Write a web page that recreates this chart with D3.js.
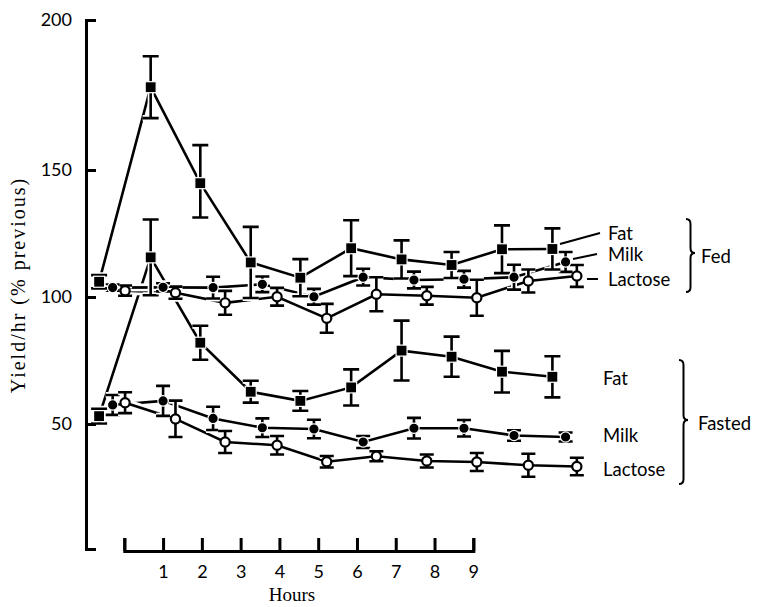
<!DOCTYPE html>
<html>
<head>
<meta charset="utf-8">
<script src="https://cdn.jsdelivr.net/npm/d3@7"></script>
<style>
body { margin:0; background:#fff; }
</style>
</head>
<body>
<svg id="drawing_region"></svg>
<script>
// sampling times (hours) for each component
const hours_fat     = [-0.65, 0.68, 1.96, 3.26, 4.54, 5.85, 7.15, 8.44, 9.74, 11.04];
const hours_milk    = [-0.30, 1.00, 2.29, 3.56, 4.89, 6.16, 7.47, 8.76, 10.05, 11.38];
const hours_lactose = [0.02, 1.32, 2.60, 3.94, 5.22, 6.50, 7.80, 9.09, 10.42, 11.67];

// yield/hr, % of previous; err = half length of error bar
const fed_fat         = [106.0, 177.6, 144.8, 113.6, 107.6, 119.2, 114.8, 112.6, 118.8, 118.9];
const fed_fat_err     = [2.6, 10.3, 13.5, 14.0, 7.3, 11.0, 7.5, 5.1, 9.4, 8.1];
const fed_milk        = [103.7, 103.8, 103.7, 105.0, 100.1, 107.8, 106.7, 107.0, 107.8, 113.8];
const fed_milk_err    = [1.2, 1.6, 4.3, 3.1, 3.1, 3.3, 3.3, 3.3, 4.9, 3.9];
const fed_lactose     = [102.5, 101.7, 97.7, 100.1, 91.6, 101.1, 100.5, 99.7, 106.3, 108.3];
const fed_lactose_err = [2.0, 2.4, 4.7, 3.5, 5.7, 6.7, 3.5, 7.1, 4.5, 4.3];

const fasted_fat         = [53.1, 115.6, 82.0, 62.7, 59.1, 64.4, 78.9, 76.5, 70.6, 68.6];
const fasted_fat_err     = [2.9, 14.9, 6.7, 4.3, 3.9, 7.1, 11.8, 7.9, 8.2, 8.1];
const fasted_milk        = [57.5, 59.1, 52.2, 48.5, 48.0, 42.8, 48.3, 48.3, 45.4, 44.8];
const fasted_milk_err    = [3.9, 5.9, 4.6, 3.7, 3.7, 2.4, 4.1, 3.3, 2.1, 1.8];
const fasted_lactose     = [58.4, 52.0, 42.8, 41.5, 34.9, 37.1, 35.2, 34.8, 33.5, 33.0];
const fasted_lactose_err = [4.1, 7.2, 4.4, 3.7, 2.3, 2.0, 2.6, 3.6, 4.6, 3.5];

const y_ticks = [50, 100, 150, 200];
const x_ticks = [0, 1, 2, 3, 4, 5, 6, 7, 8, 9];

function series(name, marker, t, v, e) {
    return { name: name, marker: marker, points: t.map((h, i) => ({ t: h, v: v[i], e: e[i] })) };
}

// fasted first so the fed lines cut through them
const all_series = [
    series('Fasted fat', 'square', hours_fat, fasted_fat, fasted_fat_err),
    series('Fasted milk', 'dot', hours_milk, fasted_milk, fasted_milk_err),
    series('Fasted lactose', 'ring', hours_lactose, fasted_lactose, fasted_lactose_err),
    series('Fed lactose', 'ring', hours_lactose, fed_lactose, fed_lactose_err),
    series('Fed milk', 'dot', hours_milk, fed_milk, fed_milk_err),
    series('Fed fat', 'square', hours_fat, fed_fat, fed_fat_err)
];

const W = 757, H = 607;
const svg = d3.select('#drawing_region')
    .attr('width', W)
    .attr('height', H);

// x axis spans 0-9 h only; the samples run past it as in the original
const xscale = d3.scaleLinear().domain([0, 9]).range([124.3, 473.3]);
// the printed axis is not evenly spaced, so piecewise
const yscale = d3.scaleLinear().domain([0, 50, 100, 150, 200]).range([549, 424, 297, 170, 20]);

const line = d3.line()
    .x(d => xscale(d.t))
    .y(d => yscale(d.v));

// lines with white casing
const lines_g = svg.append('g');
all_series.forEach(s => {
    lines_g.append('path')
        .datum(s.points)
        .attr('d', line)
        .attr('fill', 'none')
        .attr('stroke', '#fff')
        .attr('stroke-width', 8);
    lines_g.append('path')
        .datum(s.points)
        .attr('d', line)
        .attr('fill', 'none')
        .attr('stroke', '#000')
        .attr('stroke-width', 2.6);
});

// error bars
const err_g = svg.append('g');
all_series.forEach(s => {
    const cap = s.marker == 'square' ? 8 : 7;
    const path = d => {
        const x = xscale(d.t), y0 = yscale(d.v - d.e), y1 = yscale(d.v + d.e);
        return `M${x},${y0}V${y1}M${x - cap},${y1}H${x + cap}M${x - cap},${y0}H${x + cap}`;
    };
    err_g.selectAll(null)
        .data(s.points)
        .enter()
        .append('path')
        .attr('d', path)
        .attr('fill', 'none')
        .attr('stroke', '#fff')
        .attr('stroke-width', 6);
    err_g.selectAll(null)
        .data(s.points)
        .enter()
        .append('path')
        .attr('d', path)
        .attr('fill', 'none')
        .attr('stroke', '#000')
        .attr('stroke-width', 2.6);
});

// markers
const mark_g = svg.append('g');
all_series.forEach(s => {
    if (s.marker == 'square') {
        mark_g.selectAll(null)
            .data(s.points)
            .enter()
            .append('rect')
            .attr('x', d => xscale(d.t) - 5.5)
            .attr('y', d => yscale(d.v) - 5.5)
            .attr('width', 11)
            .attr('height', 11)
            .attr('fill', '#000')
            .attr('stroke', '#fff')
            .attr('stroke-width', 1.2);
    } else if (s.marker == 'dot') {
        mark_g.selectAll(null)
            .data(s.points)
            .enter()
            .append('circle')
            .attr('cx', d => xscale(d.t))
            .attr('cy', d => yscale(d.v))
            .attr('r', 5.2)
            .attr('fill', '#000')
            .attr('stroke', '#fff')
            .attr('stroke-width', 1.2);
    } else {
        mark_g.selectAll(null)
            .data(s.points)
            .enter()
            .append('circle')
            .attr('cx', d => xscale(d.t))
            .attr('cy', d => yscale(d.v))
            .attr('r', 4.6)
            .attr('fill', '#fff')
            .attr('stroke', '#000')
            .attr('stroke-width', 2.2);
    }
});

// axes
const yaxis = d3.axisLeft(yscale)
    .tickValues(y_ticks)
    .tickSizeInner(-10)
    .tickSizeOuter(-10)
    .tickPadding(14);
const yaxis_group = svg.append('g')
    .attr('transform', 'translate(86,0)')
    .call(yaxis);

const xaxis = d3.axisBottom(xscale)
    .tickValues(x_ticks)
    .tickFormat(d => d === 0 ? '' : d)
    .tickSizeInner(-13)
    .tickSizeOuter(-13)
    .tickPadding(14);
const xaxis_group = svg.append('g')
    .attr('transform', 'translate(0,551)')
    .call(xaxis);

[yaxis_group, xaxis_group].forEach(g => {
    g.selectAll('path, line').attr('stroke', '#000').attr('stroke-width', 3);
    g.selectAll('text')
        .attr('fill', '#000')
        .style('font-family', 'Lato, sans-serif')
        .style('font-size', '18px');
});

svg.append('text')
    .attr('transform', 'translate(25,285) rotate(-90)')
    .attr('text-anchor', 'middle')
    .style('font-family', '"Liberation Serif", serif')
    .style('font-size', '20px')
    .style('letter-spacing', '2px')
    .text('Yield/hr (% previous)');

svg.append('text')
    .attr('x', 292)
    .attr('y', 601)
    .attr('text-anchor', 'middle')
    .style('font-family', '"Liberation Serif", serif')
    .style('font-size', '19px')
    .text('Hours');

// labels, leader lines and braces
const label_font = t => t.style('font-family', 'Lato, sans-serif').style('font-size', '18.5px').attr('fill', '#000');

const labels = [
    { text: 'Fat', x: 608, y: 240 },
    { text: 'Milk', x: 608, y: 261 },
    { text: 'Lactose', x: 608, y: 286 },
    { text: 'Fed', x: 701, y: 263 },
    { text: 'Fat', x: 603, y: 385 },
    { text: 'Milk', x: 603, y: 442 },
    { text: 'Lactose', x: 603, y: 476 },
    { text: 'Fasted', x: 698, y: 430 }
];
svg.append('g').selectAll('text')
    .data(labels)
    .enter()
    .append('text')
    .attr('x', d => d.x)
    .attr('y', d => d.y)
    .text(d => d.text)
    .call(label_font);

const leaders = [
    [560, 244, 600, 233],
    [573, 259, 597, 254],
    [587, 279, 598, 279]
];
svg.append('g').selectAll('line')
    .data(leaders)
    .enter()
    .append('line')
    .attr('x1', d => d[0]).attr('y1', d => d[1])
    .attr('x2', d => d[2]).attr('y2', d => d[3])
    .attr('stroke', '#000')
    .attr('stroke-width', 2);

function brace(x, y0, y1, tip, w) {
    const m = x + w / 2, r = 5;
    return `M${x},${y0}Q${m},${y0} ${m},${y0 + r}L${m},${tip - r}Q${m},${tip} ${x + w},${tip}` +
        `Q${m},${tip} ${m},${tip + r}L${m},${y1 - r}Q${m},${y1} ${x},${y1}`;
}
svg.append('path')
    .attr('d', brace(686, 219, 292, 253, 9))
    .attr('fill', 'none').attr('stroke', '#000').attr('stroke-width', 2);
svg.append('path')
    .attr('d', brace(679, 360, 484, 420, 9))
    .attr('fill', 'none').attr('stroke', '#000').attr('stroke-width', 2);
</script>
</body>
</html>
